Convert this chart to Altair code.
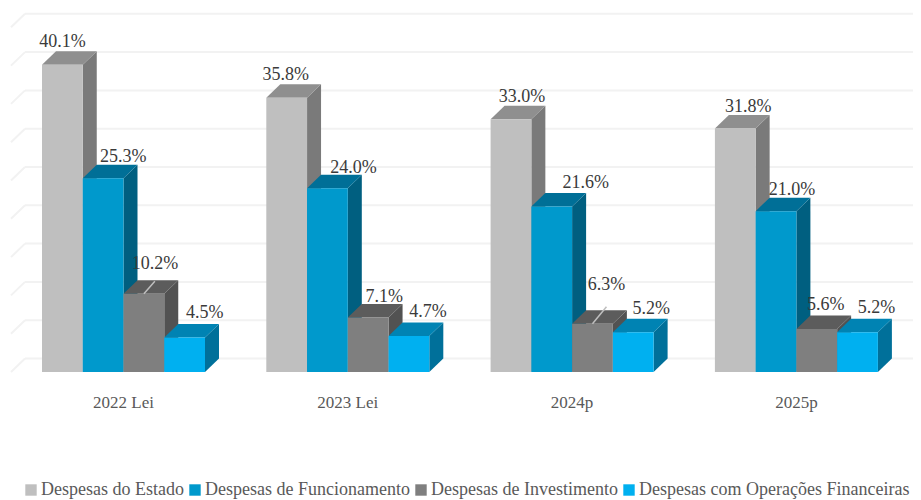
import altair as alt
import pandas as pd

# --- chart values ---
periods = ["2022 Lei", "2023 Lei", "2024p", "2025p"]
series = ["Despesas do Estado", "Despesas de Funcionamento",
          "Despesas de Investimento", "Despesas com Operações Financeiras"]
estado = [40.1, 35.8, 33.0, 31.8]
funcionamento = [25.3, 24.0, 21.6, 21.0]
investimento = [10.2, 7.1, 6.3, 5.6]
operacoes = [4.5, 4.7, 5.2, 5.2]
grid_values = [0, 5, 10, 15, 20, 25, 30, 35, 40, 45]

# --- styles and layout ---
front = ["#BFBFBF", "#0099CC", "#7F7F7F", "#00B0F0"]
top = ["#8F8F8F", "#006F97", "#5C5C5C", "#0083B3"]
side = ["#7A7A7A", "#005F80", "#525252", "#00709A"]
FONT = "Liberation Serif"
W, H = 905, 492
X0, GROUP_PX, BAR_PX, DEPTH_X_PX, DEPTH_Y_PX = 34.0, 224.3, 40.75, 14.0, 13.5
Y0_PX, UNIT_PX = 364.0, 7.66
# label offsets from the top-centre of each bar's front face, in pixels
label_dx = [[0, 20, 11, 20], [-1, 26, 16, 19], [11, 34, 14, 18], [13, 16, 9, 19]]
label_dy = [[23, 21, 30, 25], [23, 20, 21, 24], [22, 24, 39, 23], [21, 21, 24, 24]]

px_x = lambda p: p / GROUP_PX
px_y = lambda p: p / UNIT_PX
x_domain = [px_x(-X0), px_x(W - X0)]
y_domain = [px_y(Y0_PX - H), px_y(Y0_PX)]
bw, dx, dy = px_x(BAR_PX), px_x(DEPTH_X_PX), px_y(DEPTH_Y_PX)

values = [estado, funcionamento, investimento, operacoes]
fronts, tops, sides, labels, leaders = [], [], [], [], []
for g, period in enumerate(periods):
    for s, name in enumerate(series):
        v = values[s][g]
        x = g + s * bw
        key = f"{g}-{s}"
        fronts.append(dict(x=x, x2=x + bw, y=0, y2=v, series=name))
        for px_, a, b in [(x + bw, 0, v), (x + bw + dx, dy, v + dy)]:
            sides.append(dict(key=key, c=side[s], x=px_, y=a, y2=b))
        for px_, a, b in [(x, v, v), (x + dx, v, v + dy), (x + bw, v, v + dy),
                          (x + bw + dx, v + dy, v + dy)]:
            tops.append(dict(key=key, c=top[s], x=px_, y=a, y2=b))
        labels.append(dict(x=x + bw / 2 + px_x(label_dx[g][s]),
                           y=v + px_y(label_dy[g][s]), t=f"{v:.1f}%"))
# leader lines of the two displaced labels
for g, s, ex, ey in [(0, 2, 11, 12.5), (2, 2, 14, 17)]:
    v = values[s][g]
    xc = g + s * bw + bw / 2
    leaders.append(dict(x=xc, x2=xc + px_x(ex), y=v, y2=v + px_y(ey)))

periods_df = pd.DataFrame([dict(x=g + 2 * bw, y=px_y(Y0_PX - 395), t=p)
                           for g, p in enumerate(periods)])
grid_df = pd.DataFrame([dict(x=x_domain[0] + px_x(17), x2=x_domain[1],
                             y=v + dy) for v in grid_values])
floor_df = pd.DataFrame([dict(x=x_domain[0] + px_x(3), x2=x_domain[0] + px_x(17),
                              y=v, y2=v + dy) for v in grid_values])

X = lambda f="x": alt.X(f"{f}:Q", scale=alt.Scale(domain=x_domain, nice=False, zero=False), axis=None)
Y = lambda f="y": alt.Y(f"{f}:Q", scale=alt.Scale(domain=y_domain, nice=False, zero=False), axis=None, stack=None)

grid = alt.Chart(grid_df).mark_rule(color="#F2F2F2", strokeWidth=2).encode(x=X(), x2="x2:Q", y=Y())
floor = alt.Chart(floor_df).mark_rule(color="#F2F2F2", strokeWidth=2).encode(x=X(), x2="x2:Q", y=Y(), y2="y2:Q")
side_l = alt.Chart(pd.DataFrame(sides)).mark_area(opacity=1).encode(
    x=X(), y=Y(), y2="y2:Q", detail="key:N", color=alt.Color("c:N", scale=None))
top_l = alt.Chart(pd.DataFrame(tops)).mark_area(opacity=1).encode(
    x=X(), y=Y(), y2="y2:Q", detail="key:N", color=alt.Color("c:N", scale=None))
front_l = alt.Chart(pd.DataFrame(fronts)).mark_bar(opacity=1).encode(
    x=X(), x2="x2:Q", y=Y(), y2="y2:Q",
    color=alt.Color("series:N", scale=alt.Scale(domain=series, range=front),
                    legend=alt.Legend(title=None, orient="none", legendX=14, legendY=473,
                                      direction="horizontal", columns=4, gridAlign="none",
                                      symbolType="square", symbolSize=130, symbolStrokeWidth=0,
                                      symbolOpacity=1, columnPadding=2, labelOffset=1,
                                      labelFont=FONT, labelFontSize=18, labelColor="#595959",
                                      labelLimit=400)))
leader_l = alt.Chart(pd.DataFrame(leaders)).mark_rule(color="#BFBFBF", strokeWidth=1.5).encode(
    x=X(), x2="x2:Q", y=Y(), y2="y2:Q")
label_l = alt.Chart(pd.DataFrame(labels)).mark_text(
    font=FONT, fontSize=18, color="#3A3A3A", align="center", baseline="middle").encode(
    x=X(), y=Y(), text="t:N")
period_l = alt.Chart(periods_df).mark_text(
    font=FONT, fontSize=17, color="#595959", align="center", baseline="middle").encode(
    x=X(), y=Y(), text="t:N")

chart = (grid + floor + side_l + top_l + front_l + leader_l + label_l + period_l).properties(
    width=W, height=H, padding=0, autosize=alt.AutoSizeParams(type="none"),
).configure_view(stroke=None).configure_bar(binSpacing=0)

chart.save("out.html", embed_options={"renderer": "svg", "actions": False})
